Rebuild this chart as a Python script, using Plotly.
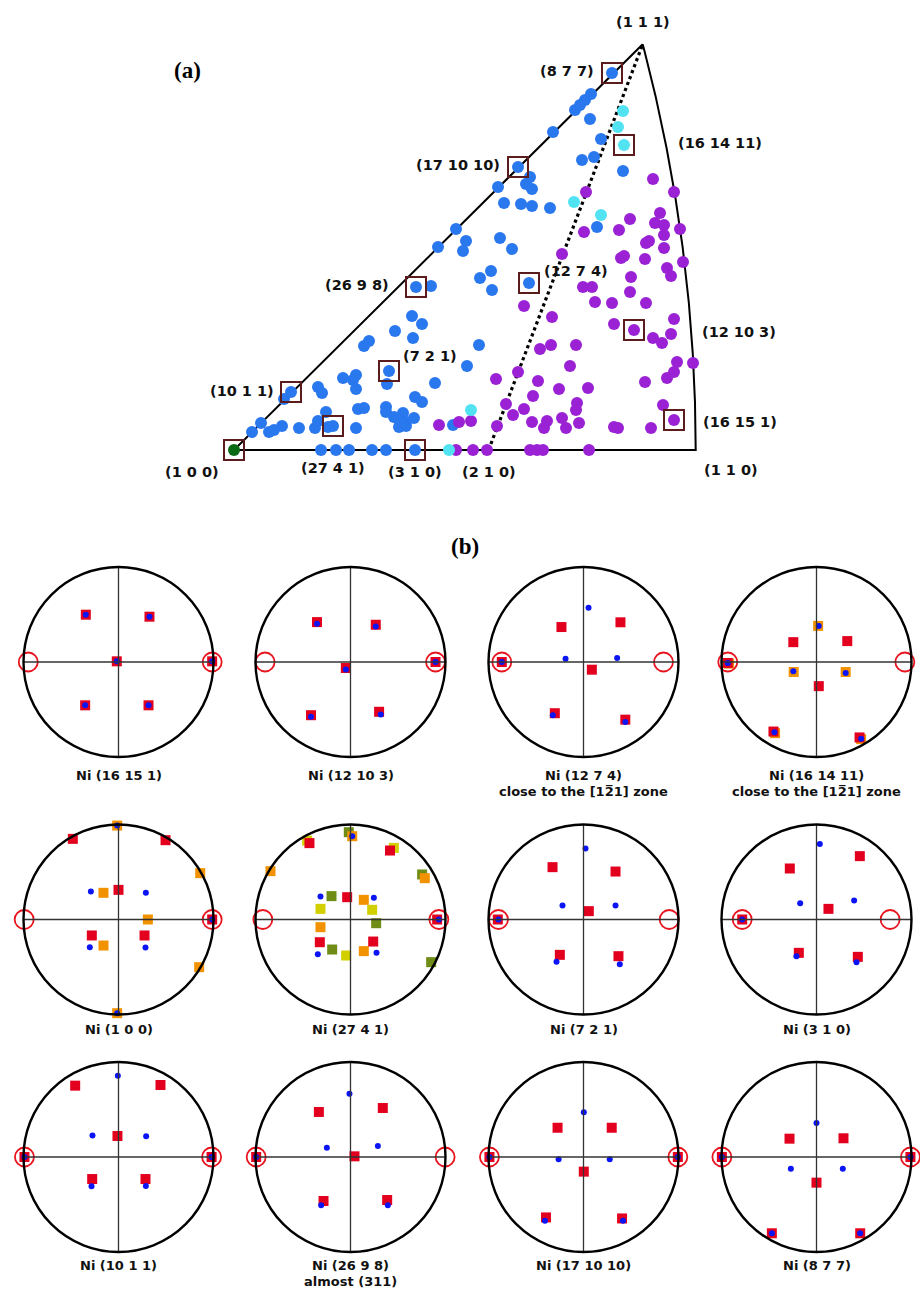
import numpy as np
import plotly.graph_objects as go

W, H = 920, 1291

# ---------------- (a) inverse pole figure (units: px-scale, origin at the (1 0 0) corner) -------------
corner_100 = (0.0, 0.0)
corner_110 = (461.7, 0.0)
corner_111 = (408.7, 405.7)
pole_210 = (254.6, 0.0)

blue_x = [378, 357, 351, 346, 341, 356, 319, 367, 360, 348, 389, 284, 296, 292, 298, 264, 270, 287, 298, 316,
          363, 222, 232, 229, 204, 266, 278, 257, 246, 258, 295, 182, 197, 178, 188, 161, 179, 135, 130, 245,
          233, 155, 153, 109, 122, 119, 122, 201, 57, 50, 84, 88, 181, 188, 92, 130, 124, 152, 152, 160,
          169, 165, 172, 180, 165, 172, 99, 84, 81, 94, 122, 65, 48, 40, 35, 27, 18, 219,
          87, 102, 115, 138, 152, 181]
blue_y = [377, 356, 350, 345, 340, 331, 318, 311, 293, 290, 279, 283, 273, 266, 261, 263, 247, 246, 244, 242,
          223, 221, 209, 199, 203, 212, 201, 179, 172, 160, 167, 163, 164, 134, 126, 119, 112, 109, 104, 105,
          84, 79, 66, 72, 75, 70, 61, 67, 58, 51, 63, 57, 53, 48, 38, 42, 41, 43, 38, 33,
          37, 30, 28, 32, 23, 24, 24, 29, 22, 23, 22, 22, 24, 20, 18, 27, 18, 25,
          0, 0, 0, 0, 0, 0]

purple_x = [419, 440, 352, 426, 421, 430, 396, 385, 350, 446, 430, 412, 415, 430, 328, 387, 390, 411, 449, 433,
            437, 397, 349, 358, 396, 290, 361, 378, 412, 318, 380, 440, 400, 419, 428, 437, 306, 317, 342, 336,
            443, 459, 284, 262, 304, 411, 440, 433, 325, 354, 299, 343, 429, 272, 279, 290, 342, 298, 313, 310,
            328, 332, 345, 380, 384, 417, 440, 263, 237, 225, 205,
            222, 239, 253, 296, 303, 309, 355]
purple_y = [271, 258, 258, 237, 227, 225, 231, 220, 218, 221, 215, 207, 209, 202, 196, 192, 194, 191, 188, 182,
            174, 173, 163, 163, 158, 144, 148, 147, 147, 133, 126, 131, 120, 112, 107, 116, 101, 105, 105, 84,
            88, 87, 78, 71, 69, 68, 78, 72, 61, 62, 54, 47, 45, 46, 35, 41, 40, 28, 29, 22,
            32, 22, 27, 23, 22, 22, 30, 24, 29, 28, 25,
            0, 0, 0, 0, 0, 0, 0]

cyan_x = [389, 384, 390, 340, 367, 237, 215]
cyan_y = [339, 323, 305, 248, 235, 40, 0]

green_x = [0]
green_y = [0]

box_x = [378, 284, 182, 295, 155, 57, 99, 181, 0, 390, 400, 440]
box_y = [377, 283, 163, 167, 79, 58, 24, 0, 0, 305, 120, 30]

tri_labels = ["(1 1 1)", "(8 7 7)", "(16 14 11)", "(17 10 10)", "(26 9 8)", "(12 7 4)", "(7 2 1)",
              "(10 1 1)", "(12 10 3)", "(16 15 1)", "(1 0 0)", "(27 4 1)", "(3 1 0)", "(2 1 0)", "(1 1 0)"]

# ---------------- (b) pole figures (normalised to unit circle) ----------------
p1_red = [(-0.344, 0.498), (0.326, 0.477), (-0.018, 0.007), (0.986, 0.007), (-0.351, -0.456), (0.316, -0.456)]
p1_blue = [(-0.344, 0.498), (0.326, 0.477), (-0.018, 0.007), (0.986, 0.007), (-0.351, -0.456), (0.316, -0.456)]
p1_ring = [(-0.95, 0), (0.986, 0)]

p2_red = [(-0.353, 0.42), (0.266, 0.392), (-0.049, -0.063), (0.895, 0), (-0.416, -0.56), (0.301, -0.524)]
p2_blue = [(-0.353, 0.402), (0.266, 0.374), (-0.049, -0.08), (0.895, 0), (-0.416, -0.577), (0.318, -0.552)]
p2_ring = [(-0.899, 0), (0.895, 0)]

p3_red = [(-0.232, 0.368), (0.389, 0.418), (0.088, -0.081), (-0.302, -0.539), (0.440, -0.607), (-0.86, 0)]
p3_blue = [(0.053, 0.572), (-0.189, 0.035), (0.354, 0.042), (-0.323, -0.56), (0.440, -0.632), (-0.86, 0)]
p3_ring = [(-0.86, 0), (0.842, 0)]

p4_orange = [(0.017, 0.380), (-0.240, -0.105), (0.307, -0.105), (-0.436, -0.749), (0.470, -0.812), (-0.920, -0.017)]
p4_red = [(-0.244, 0.209), (0.324, 0.220), (0.024, -0.254), (-0.453, -0.732), (0.453, -0.794), (-0.934, -0.010)]
p4_blue = [(0.024, 0.380), (-0.244, -0.098), (0.307, -0.115), (-0.443, -0.739), (0.470, -0.808), (-0.934, -0.010)]
p4_ring = [(-0.934, 0), (0.930, 0)]

p5_orange = [(-0.014, 0.989), (0.860, 0.488), (-0.158, 0.281), (0.309, 0), (-0.158, -0.274), (0.849, -0.502),
             (-0.014, -0.986)]
p5_red = [(-0.481, 0.849), (0.495, 0.835), (0, 0.312), (-0.281, -0.168), (0.274, -0.168), (0.986, 0)]
p5_blue = [(-0.014, 0.989), (-0.291, 0.295), (0.288, 0.281), (0.986, 0), (-0.302, -0.291), (0.284, -0.295),
           (-0.014, -0.986)]
p5_ring = [(-0.993, 0), (0.986, 0)]

p6_olive = [(-0.018, 0.919), (0.754, 0.474), (-0.200, 0.246), (0.270, -0.039), (-0.193, -0.316), (0.849, -0.449)]
p6_yellow = [(-0.456, 0.830), (0.456, 0.754), (-0.316, 0.112), (0.228, 0.102), (-0.046, -0.379)]
p6_orange = [(0.018, 0.877), (-0.842, 0.509), (0.782, 0.435), (0.140, 0.207), (-0.316, -0.081), (0.140, -0.333)]
p6_red = [(-0.432, 0.804), (0.416, 0.726), (-0.035, 0.235), (-0.323, -0.239), (0.239, -0.232), (0.912, 0)]
p6_blue = [(0.018, 0.877), (-0.316, 0.242), (0.246, 0.228), (-0.344, -0.365), (0.274, -0.351), (0.930, 0)]
p6_ring = [(-0.923, 0), (0.930, 0)]

p7_red = [(-0.326, 0.551), (0.337, 0.505), (0.056, 0.088), (-0.249, -0.372), (0.368, -0.386), (-0.902, 0)]
p7_blue = [(0.021, 0.747), (-0.221, 0.147), (0.337, 0.147), (-0.284, -0.446), (0.382, -0.470), (-0.895, 0)]
p7_ring = [(-0.895, 0), (0.902, 0)]

p8_red = [(-0.281, 0.537), (0.456, 0.667), (0.126, 0.112), (-0.186, -0.351), (0.435, -0.393), (-0.782, 0)]
p8_blue = [(0.035, 0.796), (-0.172, 0.172), (0.396, 0.200), (-0.211, -0.386), (0.421, -0.449), (-0.782, 0)]
p8_ring = [(-0.782, 0), (0.775, 0)]

p9_red = [(-0.456, 0.751), (0.442, 0.758), (-0.011, 0.221), (-0.277, -0.232), (0.284, -0.232), (-0.99, 0), (0.98, 0)]
p9_blue = [(-0.007, 0.856), (-0.274, 0.225), (0.291, 0.218), (-0.284, -0.309), (0.288, -0.305), (-0.99, 0), (0.98, 0)]
p9_ring = [(-0.99, 0), (0.98, 0)]

p10_red = [(-0.333, 0.474), (0.340, 0.516), (0.042, 0.007), (-0.284, -0.463), (0.386, -0.453), (-0.993, 0)]
p10_blue = [(-0.011, 0.667), (-0.249, 0.098), (0.288, 0.116), (-0.309, -0.509), (0.393, -0.509), (-0.993, 0)]
p10_ring = [(-0.993, 0), (0.996, 0)]

p11_red = [(-0.273, 0.308), (0.297, 0.308), (0.003, -0.154), (-0.395, -0.636), (0.406, -0.647), (-0.99, 0), (0.993, 0)]
p11_blue = [(0.003, 0.472), (-0.262, -0.024), (0.276, -0.024), (-0.406, -0.671), (0.416, -0.671), (-0.99, 0), (0.993, 0)]
p11_ring = [(-0.99, 0), (0.993, 0)]

p12_red = [(-0.284, 0.193), (0.284, 0.197), (0, -0.270), (-0.470, -0.803), (0.460, -0.803), (-0.996, 0), (0.989, 0)]
p12_blue = [(0, 0.358), (-0.270, -0.123), (0.277, -0.123), (-0.470, -0.803), (0.460, -0.803), (-0.996, 0), (0.989, 0)]
p12_ring = [(-0.996, 0), (0.989, 0)]

pf_titles = ["Ni (16 15 1)", "Ni (12 10 3)", "Ni (12 7 4)", "Ni (16 14 11)",
             "Ni (1 0 0)", "Ni (27 4 1)", "Ni (7 2 1)", "Ni (3 1 0)",
             "Ni (10 1 1)", "Ni (26 9 8)", "Ni (17 10 10)", "Ni (8 7 7)"]
pf_subtitles = ["", "", "close to the [12\u03051] zone", "close to the [12\u03051] zone",
                "", "", "", "",
                "", "almost (311)", "", ""]

pole_figs = [
    dict(red=p1_red, blue=p1_blue, ring=p1_ring),
    dict(red=p2_red, blue=p2_blue, ring=p2_ring),
    dict(red=p3_red, blue=p3_blue, ring=p3_ring),
    dict(orange=p4_orange, red=p4_red, blue=p4_blue, ring=p4_ring),
    dict(orange=p5_orange, red=p5_red, blue=p5_blue, ring=p5_ring),
    dict(olive=p6_olive, yellow=p6_yellow, orange=p6_orange, red=p6_red, blue=p6_blue, ring=p6_ring),
    dict(red=p7_red, blue=p7_blue, ring=p7_ring),
    dict(red=p8_red, blue=p8_blue, ring=p8_ring),
    dict(red=p9_red, blue=p9_blue, ring=p9_ring),
    dict(red=p10_red, blue=p10_blue, ring=p10_ring),
    dict(red=p11_red, blue=p11_blue, ring=p11_ring),
    dict(red=p12_red, blue=p12_blue, ring=p12_ring),
]

# ---------------- layout geometry (page pixels) ----------------
ORIGIN_PX = (234.0, 450.0)        # page position of the (1 0 0) corner
COL_PX = [118.5, 350.5, 583.5, 816.5]
ROW_PX = [662.0, 919.5, 1157.0]
ROW_LABEL_PX = [775.0, 1029.0, 1265.0]
SUB_GAP = 16.5
R_PX = 95.0
K = 1.08

FONT = "DejaVu Sans"
C_BLUE = "#2A78EE"
C_PURPLE = "#9A22D4"
C_CYAN = "#52E3F3"
C_GREEN = "#0B6A14"
C_BOX = "#5A1C1C"
PF_COLORS = dict(olive="#6E8C16", yellow="#D2D000", orange="#F39200", red="#E2001E", blue="#0A14F5")


def fx(px):
    return px / W


def fy(py):
    return 1 - py / H


fig = go.Figure()

# ---- panel (a) frame ----
bx, by = corner_110
cx_, cy_ = corner_111
centre_x = (bx ** 2 - cx_ ** 2 - cy_ ** 2) / (2 * (bx - cx_))
rad = bx - centre_x
ang = np.linspace(0, np.arctan2(cy_, cx_ - centre_x), 200)
arc_x = centre_x + rad * np.cos(ang)
arc_y = rad * np.sin(ang)
frame_x = [cx_, corner_100[0], bx] + list(arc_x)
frame_y = [cy_, corner_100[1], by] + list(arc_y)
fig.add_trace(go.Scatter(x=frame_x, y=frame_y, mode="lines", line=dict(color="black", width=2),
                         hoverinfo="skip", showlegend=False, xaxis="x", yaxis="y"))
fig.add_trace(go.Scatter(x=[pole_210[0], cx_], y=[pole_210[1], cy_], mode="lines",
                         line=dict(color="black", width=3.2, dash="dot"),
                         hoverinfo="skip", showlegend=False, xaxis="x", yaxis="y"))

for xs, ys, col in [(blue_x, blue_y, C_BLUE), (purple_x, purple_y, C_PURPLE),
                    (cyan_x, cyan_y, C_CYAN), (green_x, green_y, C_GREEN)]:
    fig.add_trace(go.Scatter(x=xs, y=ys, mode="markers", cliponaxis=False,
                             marker=dict(color=col, size=12, line=dict(width=0)),
                             showlegend=False, xaxis="x", yaxis="y"))
fig.add_trace(go.Scatter(x=box_x, y=box_y, mode="markers", cliponaxis=False,
                         marker=dict(symbol="square-open", size=20, color=C_BOX, line=dict(width=2, color=C_BOX)),
                         showlegend=False, xaxis="x", yaxis="y"))

layout = dict(
    width=W, height=H, autosize=False,
    margin=dict(l=0, r=0, t=0, b=0, pad=0),
    paper_bgcolor="white", plot_bgcolor="rgba(0,0,0,0)",
    showlegend=False,
    xaxis=dict(domain=[0, 1], range=[-ORIGIN_PX[0], W - ORIGIN_PX[0]], visible=False, fixedrange=True),
    yaxis=dict(domain=[0, 1], range=[ORIGIN_PX[1] - H, ORIGIN_PX[1]], visible=False, fixedrange=True),
)

shapes = []
annotations = []

# ---- panel (b) pole figures ----
h = K * R_PX
order = ["olive", "yellow", "orange", "red", "blue"]
for i, pf in enumerate(pole_figs):
    n = i + 2
    r, c = divmod(i, 4)
    pcx, pcy = COL_PX[c], ROW_PX[r]
    layout[f"xaxis{n}"] = dict(domain=[max(0.0, fx(pcx - h)), min(1.0, fx(pcx + h))], range=[-K, K],
                               visible=False, fixedrange=True)
    layout[f"yaxis{n}"] = dict(domain=[fy(pcy + h), fy(pcy - h)], range=[-K, K],
                               visible=False, fixedrange=True)
    xr, yr = f"x{n}", f"y{n}"
    shapes.append(dict(type="line", xref=xr, yref=yr, x0=-1, x1=1, y0=0, y1=0,
                       line=dict(color="#333333", width=1.3)))
    shapes.append(dict(type="line", xref=xr, yref=yr, x0=0, x1=0, y0=-1, y1=1,
                       line=dict(color="#333333", width=1.3)))
    shapes.append(dict(type="circle", xref=xr, yref=yr, x0=-1, x1=1, y0=-1, y1=1,
                       line=dict(color="black", width=2.4)))
    for key in order:
        if key not in pf:
            continue
        pts = pf[key]
        if key == "blue":
            mk = dict(symbol="circle", size=6, color=PF_COLORS[key], line=dict(width=0))
        else:
            mk = dict(symbol="square", size=10, color=PF_COLORS[key], line=dict(width=0))
        fig.add_trace(go.Scatter(x=[p[0] for p in pts], y=[p[1] for p in pts], mode="markers",
                                 marker=mk, cliponaxis=False, showlegend=False, xaxis=xr, yaxis=yr))
    ring = pf["ring"]
    fig.add_trace(go.Scatter(x=[p[0] for p in ring], y=[p[1] for p in ring], mode="markers",
                             marker=dict(symbol="circle-open", size=19, color="#E8141E",
                                         line=dict(width=1.8, color="#E8141E")),
                             cliponaxis=False, showlegend=False, xaxis=xr, yaxis=yr))
    annotations.append(dict(text=pf_titles[i], x=fx(pcx), y=fy(ROW_LABEL_PX[r]), xref="paper", yref="paper",
                            showarrow=False, xanchor="center", yanchor="middle",
                            font=dict(family=FONT, size=13, color="#111111", weight="bold")))
    if pf_subtitles[i]:
        annotations.append(dict(text=pf_subtitles[i], x=fx(pcx), y=fy(ROW_LABEL_PX[r] + SUB_GAP),
                                xref="paper", yref="paper", showarrow=False, xanchor="center", yanchor="middle",
                                font=dict(family=FONT, size=13, color="#111111", weight="bold")))

# ---- panel (a) labels ----
tri_label_px = [(643, 22), (567, 71), (720, 143), (458, 165), (357, 285), (576, 271), (430, 356),
                (242, 391), (739, 332), (740, 422), (192, 472), (333, 468), (415, 472), (489, 472), (731, 470)]
for txt, (px, py) in zip(tri_labels, tri_label_px):
    annotations.append(dict(text=txt, x=fx(px), y=fy(py), xref="paper", yref="paper",
                            showarrow=False, xanchor="center", yanchor="middle",
                            font=dict(family=FONT, size=14.5, color="#111111", weight="bold")))

for txt, (px, py) in [("(a)", (187, 71)), ("(b)", (465, 546))]:
    annotations.append(dict(text=txt, x=fx(px), y=fy(py), xref="paper", yref="paper",
                            showarrow=False, xanchor="center", yanchor="middle",
                            font=dict(family="Liberation Serif", size=23, color="black", weight="bold")))

layout["shapes"] = shapes
layout["annotations"] = annotations
fig.update_layout(**layout)
fig.write_html("out.html",
               config={"displayModeBar": False, "staticPlot": True},
               post_script="document.body.style.margin='0';document.body.style.overflow='hidden';")
